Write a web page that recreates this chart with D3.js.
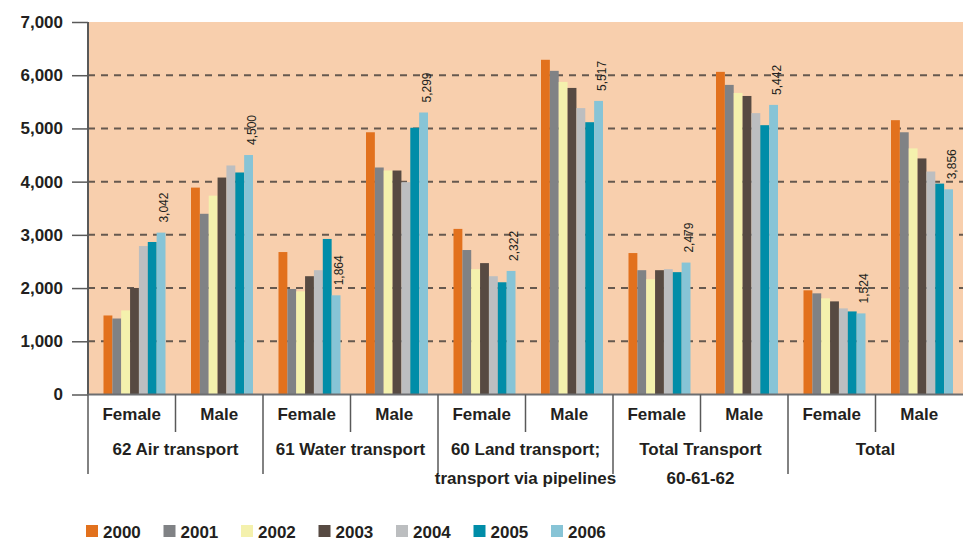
<!DOCTYPE html>
<html>
<head>
<meta charset="utf-8">
<script src="https://cdn.jsdelivr.net/npm/d3@7"></script>
<style>
  body { margin: 0; background: #fff; }
  svg text { font-family: "Liberation Sans", Arial, sans-serif; fill: #231f20; }
</style>
</head>
<body>
<div id="g-container"></div>
<script>
	// categories
	var groups = [["62 Air transport"], ["61 Water transport"], ["60 Land transport;", "transport via pipelines"], ["Total Transport", "60-61-62"], ["Total"]]
	var sexes = ["Female", "Male"]
	var years = ["2000", "2001", "2002", "2003", "2004", "2005", "2006"]
	var colors = ["#E2711D", "#808285", "#F4F1AD", "#574A42", "#BCBEC0", "#008DA8", "#87C4D6"]

	// series values: Air F, Air M, Water F, Water M, Land F, Land M, TotTransp F, TotTransp M, Total F, Total M
	var v2000 = [1485, 3888, 2677, 4928, 3112, 6290, 2658, 6063, 1958, 5155]
	var v2001 = [1428, 3396, 1983, 4266, 2715, 6082, 2336, 5818, 1901, 4928]
	var v2002 = [1580, 3737, 1939, 4209, 2355, 5874, 2166, 5667, 1807, 4625]
	var v2003 = [2002, 4077, 2223, 4209, 2469, 5761, 2336, 5610, 1750, 4436]
	var v2004 = [2790, 4304, 2336, 3990, 2223, 5382, 2355, 5288, 1618, 4190]
	var v2005 = [2866, 4172, 2923, 5013, 2109, 5117, 2299, 5061, 1561, 3963]
	var v2006 = [3042, 4500, 1864, 5299, 2322, 5517, 2479, 5442, 1524, 3856]
	var series = [v2000, v2001, v2002, v2003, v2004, v2005, v2006]

	var yTicks = [0, 1000, 2000, 3000, 4000, 5000, 6000, 7000]

	var width = 963, height = 543
	var m = {left: 88, right: 0, top: 22, bottom: 150}

	var svg = d3.select("#g-container").append("svg").attr("width", width).attr("height", height)

	var bands = []
	groups.forEach(function(g, gi){
		sexes.forEach(function(s){ bands.push(gi + "-" + s) })
	})

	var x = d3.scaleBand().domain(bands).range([m.left, width - m.right])
	var xYear = d3.scaleBand().domain(years).range([15.5, 77.5])
	var y = d3.scaleLinear().domain([0, 7000]).range([height - m.bottom + 1.5, m.top])

	// plot background
	svg.append("rect")
		.attr("x", m.left).attr("y", y(7000))
		.attr("width", width - m.left).attr("height", y(0) - y(7000))
		.attr("fill", "#F8CFAD")

	// grid
	svg.append("g").selectAll("line").data(yTicks.slice(1, -1)).enter().append("line")
		.attr("x1", m.left).attr("x2", width)
		.attr("y1", function(d){ return y(d) }).attr("y2", function(d){ return y(d) })
		.attr("stroke", "#66594f").attr("stroke-width", 2).attr("stroke-dasharray", "7,6")

	// bars
	var bars = svg.append("g")
	series.forEach(function(vals, yi){
		bars.selectAll(".b" + yi).data(vals).enter().append("rect")
			.attr("class", "b" + yi)
			.attr("x", function(d, i){ return x(bands[i]) + xYear(years[yi]) })
			.attr("width", xYear.bandwidth())
			.attr("y", function(d){ return y(d) })
			.attr("height", function(d){ return y(0) - y(d) })
			.attr("fill", colors[yi])
	})

	// value labels on 2006
	svg.append("g").selectAll("text").data(v2006).enter().append("text")
		.attr("transform", function(d, i){
			var cx = x(bands[i]) + xYear("2006") + xYear.bandwidth()/2 + 7
			return "translate(" + cx + "," + (y(d) - 10) + ") rotate(-90)"
		})
		.style("font-size", "12px")
		.text(function(d){ return d3.format(",")(d) })

	// y axis
	var yAxis = d3.axisLeft(y).tickValues(yTicks).tickFormat(d3.format(",")).tickSize(16).tickPadding(9)
	var ya = svg.append("g").attr("transform", "translate(" + m.left + ",0)").call(yAxis)
	ya.select(".domain").attr("stroke", "#595959").attr("stroke-width", 2).attr("d", "M0," + y(7000) + "V" + y(0))
	ya.selectAll(".tick line").attr("stroke", "#595959").attr("stroke-width", 1.5)
	ya.selectAll(".tick text").style("font-size", "17px").style("font-weight", "bold").attr("fill", "#231f20")
		.style("font-family", "'Liberation Sans', Arial, sans-serif")

	// x axis line
	svg.append("line").attr("x1", m.left).attr("x2", width).attr("y1", y(0)).attr("y2", y(0))
		.attr("stroke", "#6d6e71").attr("stroke-width", 2)

	// separators
	var sep = svg.append("g").attr("stroke", "#595959").attr("stroke-width", 1.5)
	bands.forEach(function(b, i){
		var xx = x(b)
		sep.append("line").attr("x1", xx).attr("x2", xx).attr("y1", y(0)).attr("y2", i % 2 == 0 ? 474 : 432)
	})

	// sex labels
	svg.append("g").selectAll("text").data(bands).enter().append("text")
		.attr("x", function(d){ return x(d) + x.bandwidth()/2 })
		.attr("y", 420)
		.attr("text-anchor", "middle")
		.style("font-size", "17px").style("font-weight", "bold")
		.text(function(d){ return d.split("-")[1] })

	// group labels
	groups.forEach(function(g, gi){
		var cx = x(gi + "-Female") + x.bandwidth()
		g.forEach(function(line, li){
			svg.append("text").attr("x", cx).attr("y", 455 + li * 29)
				.attr("text-anchor", "middle")
				.style("font-size", "17px").style("font-weight", "bold")
				.text(line)
		})
	})

	// legend
	var lg = svg.append("g").attr("transform", "translate(86,525)")
	years.forEach(function(yr, i){
		var item = lg.append("g").attr("transform", "translate(" + (i * 77.5) + ",0)")
		item.append("rect").attr("width", 12).attr("height", 12).attr("fill", colors[i])
		item.append("text").attr("x", 17).attr("y", 12.5)
			.style("font-size", "17px").style("font-weight", "bold")
			.text(yr)
	})
</script>
</body>
</html>
